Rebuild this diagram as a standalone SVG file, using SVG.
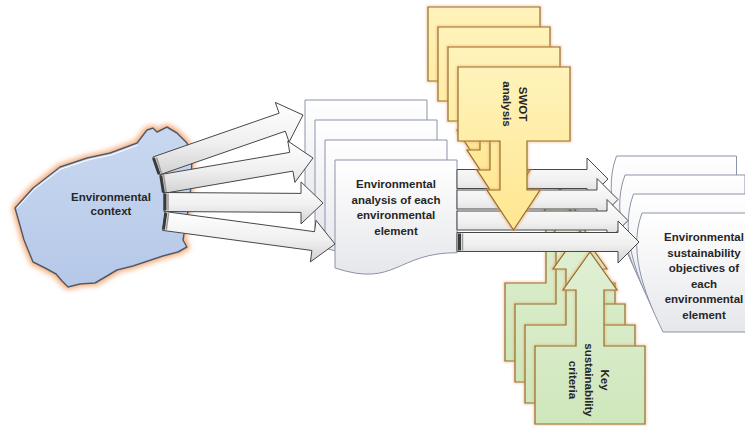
<svg xmlns="http://www.w3.org/2000/svg" width="745" height="426" viewBox="0 0 745 426">
<defs>
<style>
.t{font-family:"Liberation Sans",Arial,sans-serif;font-weight:bold;font-size:11.5px;fill:#262626;text-anchor:middle}
.doc{fill:url(#docG);stroke:#8a93a8;stroke-width:1}
.arr{fill:url(#arrG);stroke:#474747;stroke-width:1;stroke-linejoin:miter}
.yel{fill:url(#yelG);stroke:#8e6e2e;stroke-width:1.2;filter:url(#glowS)}
.grn{fill:url(#grnG);stroke:#8e6e2e;stroke-width:1.2;filter:url(#glowS)}
.tail{stroke:#3a3a3a;stroke-width:3;fill:none}
.tail2{stroke:#9a9a9a;stroke-width:1.5;fill:none}
</style>
<linearGradient id="docG" x1="0" y1="0" x2="0" y2="1"><stop offset="0" stop-color="#ffffff"/><stop offset="1" stop-color="#e6e7eb"/></linearGradient>
<linearGradient id="arrG" x1="0" y1="0" x2="0" y2="1"><stop offset="0" stop-color="#ffffff"/><stop offset="0.55" stop-color="#f0f0f0"/><stop offset="1" stop-color="#d2d2d2"/></linearGradient>
<linearGradient id="yelG" x1="0" y1="0" x2="0" y2="1"><stop offset="0" stop-color="#fff3bb"/><stop offset="1" stop-color="#ffe690"/></linearGradient>
<linearGradient id="grnG" x1="0" y1="0" x2="0" y2="1"><stop offset="0" stop-color="#e0f0d4"/><stop offset="1" stop-color="#cfe7bc"/></linearGradient>
<linearGradient id="blobG" x1="0" y1="0" x2="0" y2="1"><stop offset="0" stop-color="#c9d8f0"/><stop offset="1" stop-color="#b5c8e8"/></linearGradient>
<filter id="glow" x="-20%" y="-20%" width="140%" height="140%">
<feMorphology in="SourceAlpha" operator="dilate" radius="2" result="d"/>
<feGaussianBlur in="d" stdDeviation="2.5" result="b"/>
<feFlood flood-color="#f5b283"/>
<feComposite in2="b" operator="in" result="g"/>
<feMerge><feMergeNode in="g"/><feMergeNode in="SourceGraphic"/></feMerge>
</filter>
<filter id="glowS" x="-10%" y="-10%" width="120%" height="120%">
<feMorphology in="SourceAlpha" operator="dilate" radius="0.8" result="d"/>
<feGaussianBlur in="d" stdDeviation="0.8" result="b"/>
<feFlood flood-color="#f0a060" flood-opacity="0.5"/>
<feComposite in2="b" operator="in" result="g"/>
<feMerge><feMergeNode in="g"/><feMergeNode in="SourceGraphic"/></feMerge>
</filter>
<path id="docA" d="M0,0 H122 V92.7 C61,92.7 61,128 0,108 Z"/>
<path id="docO" d="M0,0 H120 V119 H21 C8,92 -16,42 0,0 Z"/>
<path id="yArrow" d="M458,67 H570 V141 H527 V190 H540 L513.5,230 L487,190 H500 V141 H458 Z"/>
<path id="gArrow" d="M535,424 H645 V346 H604 V290 H617 L590,252 L563,290 H576 V346 H535 Z"/>
</defs>

<g id="context">
<path filter="url(#glow)" fill="url(#blobG)" stroke="#4f5966" stroke-width="1.5" stroke-linejoin="round" d="M15,208 L33,188 L60,167 L87,158 L110,153 L137,143 L147,130 L153,128 L157,132 L167,127 L177,133 L187,143 L192,160 L190,200 L183,240 L187,247 L178,252 L163,256 L145,262 L133,266 L117,270 L107,276 L95,283 L80,284 L68,287 L62,281 L56,274 L45,268 L33,262 L28,250 L24,240 Z"/>
<polyline points="17,208 34,189.5 61,169 88,160 111,155 138,145" fill="none" stroke="#ffffff" stroke-width="1"/>
<text class="t" x="111" y="201">Environmental</text>
<text class="t" x="111" y="215">context</text>
</g>

<g id="analysis">
<use href="#docA" class="doc" transform="translate(305,100)"/>
<use href="#docA" class="doc" transform="translate(315,120)"/>
<use href="#docA" class="doc" transform="translate(325,140)"/>
<use href="#docA" class="doc" transform="translate(335,160)"/>
<text class="t" x="396" y="188">Environmental</text>
<text class="t" x="396" y="203.5">analysis of each</text>
<text class="t" x="396" y="219">environmental</text>
<text class="t" x="396" y="234.5">element</text>
</g>

<g id="objectives">
<use href="#docO" class="doc" transform="translate(616.5,156)"/>
<use href="#docO" class="doc" transform="translate(625,175)"/>
<use href="#docO" class="doc" transform="translate(633.5,194)"/>
<use href="#docO" class="doc" transform="translate(642,213)"/>
<text class="t" x="704" y="241">Environmental</text>
<text class="t" x="704" y="256.5">sustainability</text>
<text class="t" x="704" y="272">objectives of</text>
<text class="t" x="704" y="287.5">each</text>
<text class="t" x="704" y="303">environmental</text>
<text class="t" x="704" y="318.5">element</text>
</g>

<g id="criteria">
<use href="#gArrow" class="grn" transform="translate(-30,-63)"/>
<use href="#gArrow" class="grn" transform="translate(-20,-42)"/>
<use href="#gArrow" class="grn" transform="translate(-10,-21)"/>
<use href="#gArrow" class="grn"/>
<g transform="translate(589,380) rotate(90)">
<text class="t" x="0" y="-12">Key</text>
<text class="t" x="0" y="4">sustainability</text>
<text class="t" x="0" y="20">criteria</text>
</g>
</g>

<g id="connectors">
<polygon class="arr" points="152.9,157 279.1,113.2 275.3,102.4 303,115 289.1,142 285.3,131.2 159.1,175"/>
<line class="tail" x1="153.5" y1="158" x2="159" y2="174"/><line class="tail2" x1="156.5" y1="157.5" x2="161.5" y2="173.5"/>
<polygon class="arr" points="160.4,174.6 289.7,152.4 287.8,141 313,158 294.9,182.4 292.9,171.1 163.6,193.4"/>
<line class="tail" x1="160.8" y1="175.5" x2="163.4" y2="192.5"/><line class="tail2" x1="163.6" y1="175" x2="166.2" y2="192"/>
<polygon class="arr" points="164,192.5 301,193.4 301,181.9 323,203 301,223.9 301,212.4 164,211.5"/>
<line class="tail" x1="165" y1="193.5" x2="165" y2="210.5"/><line class="tail2" x1="168" y1="193.5" x2="168" y2="210.5"/>
<polygon class="arr" points="165.3,211.6 314.5,231.7 316,220.3 335,244 310.4,261.9 311.9,250.5 162.7,230.4"/>
<line class="tail" x1="165.8" y1="212.8" x2="163.5" y2="229.5"/><line class="tail2" x1="168.6" y1="213.2" x2="166.3" y2="229.8"/>

<path class="arr" d="M457,169.5 H587 V158 L608,179 L587,200 V188.5 H457 Z"/>
<path class="arr" d="M457,190 H597 V178.5 L618,199.5 L597,220.5 V209 H457 Z"/>
<path class="arr" d="M457,211 H607 V199.5 L628,220.5 L607,241.5 V230 H457 Z"/>
<path class="arr" d="M457,232.5 H618 V221 L639,242 L618,263 V251.5 H457 Z"/>
<line class="tail" x1="459.5" y1="233.5" x2="459.5" y2="250.5"/><line class="tail2" x1="462.5" y1="233.5" x2="462.5" y2="250.5"/>
</g>

<g id="swot">
<use href="#yArrow" class="yel" transform="translate(-30,-60)"/>
<use href="#yArrow" class="yel" transform="translate(-20,-40)"/>
<use href="#yArrow" class="yel" transform="translate(-10,-20)"/>
<use href="#yArrow" class="yel"/>
<g transform="translate(515,104) rotate(90)">
<text class="t" x="0" y="-4">SWOT</text>
<text class="t" x="0" y="12">analysis</text>
</g>
</g>
</svg>
